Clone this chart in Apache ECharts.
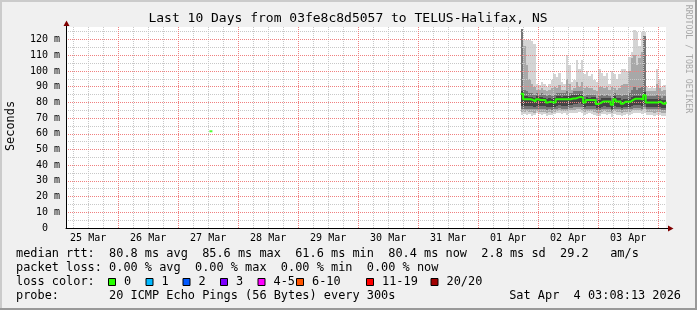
<!DOCTYPE html>
<html><head><meta charset="utf-8">
<script src="https://cdn.jsdelivr.net/npm/echarts@6/dist/echarts.min.js"></script>
<style>html,body{margin:0;padding:0;background:#f0f0f0;}#c{width:697px;height:310px;}</style>
</head><body><div id="c"></div>
<script>
// time in hours since 25 Mar 00:00 (local)
const axisStart = 3.137;      // 25 Mar 03:08:13
const axisEnd = 243.137;      // 04 Apr 03:08:13
const startHour = 185;        // first hourly sample: 01 Apr 17:00
const stepHours = 1;
const dayLabels = ['25 Mar','26 Mar','27 Mar','28 Mar','29 Mar','30 Mar','31 Mar','01 Apr','02 Apr','03 Apr'];
const labelHours = [12,36,60,84,108,132,156,180,204,228];
const midnightHours = [24,48,72,96,120,144,168,192,216,240];
const sixHourLines = [6,12,18,24,30,36,42,48,54,60,66,72,78,84,90,96,102,108,114,120,126,132,138,144,150,156,162,168,174,180,186,192,198,204,210,216,222,228,234,240];
const yLabelTicks = [0,10,20,30,40,50,60,70,80,90,100,110,120];
const yMajorLines = [10,20,30,40,50,60,70,80,90,100,110,120];
const yMinorLines = [5,15,25,35,45,55,65,75,85,95,105,115,125];

// median rtt (ms), hourly
const median = [85.5,82,82,82,81.5,80.5,82,81.5,81.5,81.5, 80,80.5,80,80,82,82,82,82,82,82, 82.5,82.5,83,83.5,83,80,81.5,81.5,81.5,81.5, 79,79.5,80.5,80.5,80.5,80.5,78.5,82,80.5,80.5, 79.2,80.4,80.4,80.4,81.6,82.3,82.3,82.3,81.8,84.6, 80,80,80,80,80,80.4,79.2,79.2,80.4];
// smoke band edges (ms)
const pMax = [127,120,120,120,119,117,92,91,93,92, 90,92,94,98,96,99,93,92,110,104, 93,94,107,101,107,98,100,97,98,94, 93,101,99,97,99,92,100,98,95,98, 101,101,100,109,112,126,125,116,125,125, 90,89,90,89,101,95,90,91,90];
const bHi = [127,116,104,95,92,90,88,88,89,88, 87,88,89,90,89,91,88,88,95,92, 88,89,93,90,93,89,90,89,89,88, 87,90,90,89,90,88,90,89,88,89, 91,92,92,100,108,110,104,108,112,122, 87,87,87,87,92,89,87,88,87];
const cHi = [127,88,87,86,86,85,86,85,86,85, 84,85,84,85,86,86,86,86,87,86, 86,87,87,87,87,84,85,85,85,85, 83,84,85,84,85,84,83,86,85,85, 84,85,85,86,88,90,88,89,90,122, 84,84,84,84,85,84,83,84,84];
const dHi = [87.5,84,84,83.5,83.5,82.5,84,83.5,83.5,83,82,82.5,82,82.5,84,84,83.5,84,84,84, 84.5,84.5,85,85.5,85,82,83.5,83,83.5,83.5, 81,81.5,82.5,82.5,82.5,82.5,80.5,84,82.5,82.5, 81.2,82.4,82.4,82.4,83.6,84.3,84.3,84.3,83.8,86.5, 82,82,82,82,82,82.4,81.2,81.2,82.4];
const dLo = [78,78,78,78,77.5,77,78,77.5,78,77.5, 77,77,77,77,78,78.5,78,78,78,78.5, 78.5,79,79,79.5,79,77,78,78,78,78, 76.5,76.5,77,77.5,77,77,76,78,77,77, 76.5,77,77,77,78,78.5,78.5,78.5,78,79, 77,77,77,77,77,77,76.5,76.5,77];
const cLo = [76,76,76,76,75.5,75.5,76,75.5,76,75.5, 75,75.5,75,75.5,76,76.5,76,76,76,76.5, 76.5,77,77,77,77,75.5,76,76,76,76, 75,75,75.5,76,75.5,75.5,74.5,76,75.5,75.5, 75,75.5,75.5,75.5,76,76.5,76.5,76.5,76,77, 75.5,75.5,75.5,75.5,75.5,75.5,75,75,75.5];
const bLo = [74,74,74.5,74,74,73.5,74.5,74,74,74, 73.5,74,73.5,74,74.5,75,74.5,74.5,74.5,75, 75,75,75.5,75.5,75,74,74.5,74.5,74.5,74, 73.5,73.5,74,74.5,74,74,73,74.5,74,74, 73.5,74,74,74,74.5,75,75,75,74.5,75.5, 74,74,74,73.5,74,74,73.5,73.5,74];
const pMin = [72,72.5,72,72.5,71.5,72,73,72.5,72,72.5, 71.5,72,72,72.5,73,73,72.5,73,72,73, 73.5,73,73.5,74,73,72,72.5,73,72.5,72, 71.5,71.5,72.5,72.5,72,72.5,71,72.5,72,72, 71.5,72,72.5,72,72.5,73,73,73,72.5,73.5, 72,72,72,71.5,72,72,71.5,71.5,72];
// single isolated sample on 27 Mar
const strayHours = [61.1];
const strayValues = [61.6];

const hours = median.map((_, i) => startHour + i * stepHours);
const MONO = '"DejaVu Sans Mono"';

const bands = [
  {lo: pMin, hi: pMax, color: '#d4d4d4'},
  {lo: bLo, hi: bHi, color: '#a8a8a8'},
  {lo: cLo, hi: cHi, color: '#767676'},
  {lo: dLo, hi: dHi, color: '#444444'}
];

function bandRenderer(color) {
  return function (params, api) {
    const h = api.value(0), lo = api.value(1), hi = api.value(2);
    const pTop = api.coord([h, hi]);
    const pBot = api.coord([h + stepHours, lo]);
    const x0 = Math.round(pTop[0]), x1 = Math.round(pBot[0]);
    const y0 = Math.round(pTop[1]), y1 = Math.round(pBot[1]);
    const cs = params.coordSys;
    const r = echarts.graphic.clipRectByRect(
      {x: x0, y: y0, width: x1 - x0, height: y1 - y0},
      {x: cs.x, y: cs.y, width: cs.width, height: cs.height});
    if (!r) return null;
    return {type: 'rect', shape: r, style: {fill: color}};
  };
}

const series = [];
bands.forEach((b) => {
  series.push({type:'custom', silent:true, z:2, renderItem: bandRenderer(b.color),
    encode:{x:0, y:[1,2]},
    data: hours.map((h,i)=>[h, b.lo[i], b.hi[i]])});
});
series.push({type:'line', step:'end', symbol:'none', z:6, silent:true,
  lineStyle:{color:'#26ff00', width:2}, data: hours.map((h,i)=>[h, median[i]])});
series.push({type:'scatter', symbol:'rect', symbolSize:[3,2], z:6, silent:true,
  itemStyle:{color:'#26ff00'}, data: strayHours.map((h,i)=>[h, strayValues[i]])});

const txt = (x, y, text, extra) => Object.assign({type:'text', x, y, silent:true,
  style:Object.assign({text, font:'11.9px '+MONO, fill:'#000', align:'left', verticalAlign:'middle'}, extra||{})});

const lossItems = [
  {label:'0', color:'#26ff00', x:108.5},
  {label:'1', color:'#00b8ff', x:146},
  {label:'2', color:'#0059ff', x:183},
  {label:'3', color:'#7e00ff', x:220.5},
  {label:'4-5', color:'#ff00ff', x:258},
  {label:'6-10', color:'#ff5500', x:296.5},
  {label:'11-19', color:'#ff0000', x:366.5},
  {label:'20/20', color:'#a10000', x:431}
];

const graphics = [
  {type:'rect', shape:{x:0,y:0,width:697,height:2}, style:{fill:'#cbcbcb'}, silent:true},
  {type:'rect', shape:{x:0,y:0,width:2,height:310}, style:{fill:'#cbcbcb'}, silent:true},
  {type:'rect', shape:{x:695,y:0,width:2,height:310}, style:{fill:'#999999'}, silent:true},
  {type:'rect', shape:{x:0,y:308,width:697,height:2}, style:{fill:'#999999'}, silent:true},
  txt(348, 19, 'Last 10 Days from 03fe8c8d5057 to TELUS-Halifax, NS', {font:'13px '+MONO, align:'center'}),
  Object.assign(txt(10.5, 126, 'Seconds', {align:'center'}), {rotation: Math.PI/2}),
  Object.assign(txt(688.5, 59, 'RRDTOOL / TOBI OETIKER', {font:'8.2px '+MONO, align:'center', fill:'#a8a8a8'}), {rotation: -Math.PI/2}),
  // axis extensions and arrows
  {type:'line', shape:{x1:666,y1:228.5,x2:670,y2:228.5}, style:{stroke:'#000', lineWidth:1}, silent:true, z:10},
  {type:'line', shape:{x1:66.5,y1:27,x2:66.5,y2:23}, style:{stroke:'#000', lineWidth:1}, silent:true, z:10},
  {type:'polygon', shape:{points:[[668,225.5],[673.5,228.5],[668,231.5]]}, style:{fill:'#7f0000'}, silent:true, z:10},
  {type:'polygon', shape:{points:[[63.5,26],[66.5,20.5],[69.5,26]]}, style:{fill:'#7f0000'}, silent:true, z:10},
  txt(16, 254, 'median rtt:  80.8 ms avg  85.6 ms max  61.6 ms min  80.4 ms now  2.8 ms sd  29.2   am/s'),
  txt(16, 268, 'packet loss: 0.00 % avg  0.00 % max  0.00 % min  0.00 % now'),
  txt(16, 282, 'loss color:'),
  txt(16, 296, 'probe:       20 ICMP Echo Pings (56 Bytes) every 300s'),
  txt(681, 296, 'Sat Apr  4 03:08:13 2026', {align:'right'})
];
lossItems.forEach(it => {
  graphics.push({type:'rect', shape:{x:it.x, y:278.5, width:7, height:7}, style:{fill:it.color, stroke:'#000', lineWidth:1}, silent:true});
  graphics.push(txt(it.x + 15.5, 282, it.label));
});

const chart = echarts.init(document.getElementById('c'), null, {renderer:'canvas'});
chart.setOption({
  animation:false,
  backgroundColor:'#f0f0f0',
  grid:{left:66, right:31, top:27, bottom:82, show:true, backgroundColor:'#ffffff', borderWidth:0, outerBoundsMode:'none'},
  xAxis:[
    {type:'value', min:axisStart, max:axisEnd, z:3,
     axisLine:{show:true, onZero:false, lineStyle:{color:'#000', width:1}},
     axisTick:{show:false, customValues:sixHourLines},
     splitLine:{show:true, lineStyle:{color:'#c8c8c8', width:1, type:[1,1]}},
     axisLabel:{show:true, customValues:labelHours, margin:5, color:'#000', fontFamily:'DejaVu Sans Mono', fontSize:10,
       formatter:(v)=>dayLabels[Math.round((v-12)/24)]}},
    {type:'value', min:axisStart, max:axisEnd, z:4,
     axisLine:{show:false}, axisLabel:{show:false},
     axisTick:{show:false, customValues:midnightHours},
     splitLine:{show:true, lineStyle:{color:'#f08080', width:1, type:[1,1]}}}
  ],
  yAxis:[
    {type:'value', min:0, max:128, z:4,
     axisLine:{show:true, lineStyle:{color:'#000', width:1}},
     axisTick:{show:false, customValues:yMajorLines},
     splitLine:{show:true, lineStyle:{color:'#f08080', width:1, type:[1,1]}},
     axisLabel:{show:true, customValues:yLabelTicks, margin:6, color:'#000', fontFamily:'DejaVu Sans Mono', fontSize:10,
       formatter:(v)=> v===0 ? '0  ' : v+' m'}},
    {type:'value', min:0, max:128, z:3, position:'left',
     axisLine:{show:false}, axisLabel:{show:false},
     axisTick:{show:false, customValues:yMinorLines},
     splitLine:{show:true, lineStyle:{color:'#c8c8c8', width:1, type:[1,1]}}}
  ],
  series: series,
  graphic: graphics
});
</script>
</body></html>
